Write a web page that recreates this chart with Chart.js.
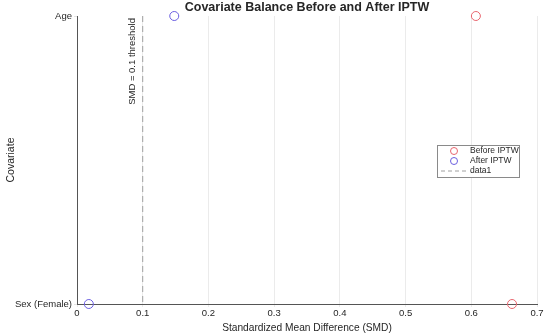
<!DOCTYPE html>
<html>
<head>
<meta charset="utf-8">
<script src="https://cdn.jsdelivr.net/npm/chart.js@4/dist/chart.umd.min.js"></script>
<style>
  html, body { margin:0; padding:0; background:#fff; }
  #wrap { width:550px; height:334px; position:relative; }
</style>
</head>
<body>
<div id="wrap"><canvas id="chart"></canvas></div>
<script>
const COVARIATES = ['Age', 'Sex (Female)'];
const SMD_BEFORE = [0.607, 0.662];
const SMD_AFTER = [0.148, 0.018];
const THRESHOLD = 0.1;
const X_TICKS = [0, 0.1, 0.2, 0.3, 0.4, 0.5, 0.6, 0.7];

const RED = '#e8656e', BLUE = '#6b5fe0', DASH = '#a0a0a0', INK = '#262626';
const FONT = 'Liberation Sans, Arial, sans-serif';

// title, threshold label, and the little boxed legend, all painted on the canvas
const decor = {
  id: 'decor',
  afterDraw(chart) {
    const { ctx, chartArea: a, scales } = chart;
    ctx.save();
    ctx.fillStyle = INK;
    ctx.font = 'bold 12.5px ' + FONT;
    ctx.textAlign = 'center'; ctx.textBaseline = 'middle';
    ctx.fillText('Covariate Balance Before and After IPTW', (a.left + a.right) / 2, 8);

    // threshold text, rotated along the dashed line
    const tx = scales.x.getPixelForValue(THRESHOLD) - 10;
    ctx.translate(tx, a.top + 2);
    ctx.rotate(-Math.PI / 2);
    ctx.font = '9.5px ' + FONT;
    ctx.textAlign = 'right';
    ctx.fillText('SMD = 0.1 threshold', 0, 0);
    ctx.restore();

    // legend
    ctx.save();
    const lx = 437, ly = 145, lw = 82, lh = 32;
    ctx.fillStyle = '#fff'; ctx.fillRect(lx, ly, lw, lh);
    ctx.strokeStyle = '#8a8a8a'; ctx.lineWidth = 1;
    ctx.strokeRect(lx + 0.5, ly + 0.5, lw, lh);
    ctx.font = '8.5px ' + FONT; ctx.textBaseline = 'middle'; ctx.textAlign = 'left';
    const rows = [['Before IPTW', RED], ['After IPTW', BLUE], ['data1', null]];
    rows.forEach((r, i) => {
      const y = ly + 6 + i * 10;
      if (r[1]) {
        ctx.strokeStyle = r[1]; ctx.beginPath(); ctx.arc(lx + 17, y, 3.5, 0, Math.PI * 2); ctx.stroke();
      } else {
        ctx.strokeStyle = DASH; ctx.setLineDash([4, 3]);
        ctx.beginPath(); ctx.moveTo(lx + 4, y); ctx.lineTo(lx + 30, y); ctx.stroke();
        ctx.setLineDash([]);
      }
      ctx.fillStyle = INK; ctx.fillText(r[0], lx + 33, y);
    });
    ctx.restore();
  }
};

new Chart(document.getElementById('chart'), {
  type: 'scatter',
  data: {
    datasets: [
      { label: 'Before IPTW', data: COVARIATES.map((c, i) => ({ x: SMD_BEFORE[i], y: c })),
        borderColor: RED, backgroundColor: 'transparent', pointRadius: 4.5, borderWidth: 1, clip: false },
      { label: 'After IPTW', data: COVARIATES.map((c, i) => ({ x: SMD_AFTER[i], y: c })),
        borderColor: BLUE, backgroundColor: 'transparent', pointRadius: 4.5, borderWidth: 1, clip: false },
      { label: 'data1', type: 'line', data: COVARIATES.map(c => ({ x: THRESHOLD, y: c })),
        borderColor: DASH, borderDash: [6, 4], borderWidth: 1, pointRadius: 0, showLine: true }
    ]
  },
  options: {
    responsive: true, maintainAspectRatio: false, animation: false,
    layout: { padding: { top: 16, right: 13, left: 5, bottom: 0 } },
    plugins: { legend: { display: false }, tooltip: { enabled: false } },
    scales: {
      x: {
        type: 'linear', min: 0, max: 0.7,
        afterBuildTicks: s => { s.ticks = X_TICKS.map(v => ({ value: v })); },
        afterFit: s => { s.height = 30; },
        grid: { color: '#ebebeb', tickLength: 3 },
        border: { color: '#555' },
        ticks: { color: INK, font: { size: 9.5, family: FONT }, padding: 1, callback: v => String(v) },
        title: { display: true, text: 'Standardized Mean Difference (SMD)', color: INK,
                 font: { size: 10.2, family: FONT }, padding: { top: 1, bottom: 0 } }
      },
      y: {
        type: 'category', labels: COVARIATES, offset: false,
        afterFit: s => { s.width = 72; },
        grid: { drawOnChartArea: false, tickLength: 3 },
        border: { color: '#555' },
        ticks: { color: INK, font: { size: 9.5, family: FONT }, padding: 2 },
        title: { display: true, text: 'Covariate', color: INK,
                 font: { size: 10.5, family: FONT }, padding: { top: 0, bottom: 0 } }
      }
    }
  },
  plugins: [decor]
});
</script>
</body>
</html>
